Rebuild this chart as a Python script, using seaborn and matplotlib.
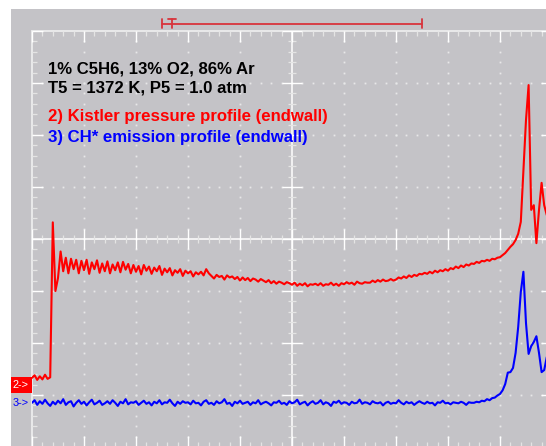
import numpy as np
import pandas as pd
import matplotlib
matplotlib.use("Agg")
import matplotlib.pyplot as plt
import seaborn as sns
from matplotlib.collections import LineCollection
from matplotlib.patches import Rectangle

# ---- acquisition record (screen divisions; 10 x 8 graticule, centre = 0) ----
SAMPLE_STEP = 0.05  # divisions per sample

# Channel 2: Kistler pressure (endwall)
pressure_div = [
    -2.67, -2.62, -2.71, -2.64, -2.70, -2.61, -2.69, -2.66, 0.32, -1.00,
    -0.75, -0.24, -0.62, -0.36, -0.66, -0.38, -0.58, -0.40, -0.66, -0.42,
    -0.60, -0.40, -0.67, -0.45, -0.58, -0.41, -0.65, -0.47, -0.62, -0.43,
    -0.66, -0.49, -0.60, -0.45, -0.64, -0.44, -0.59, -0.48, -0.66, -0.50,
    -0.63, -0.52, -0.68, -0.50, -0.61, -0.53, -0.67, -0.55, -0.62, -0.52,
    -0.69, -0.57, -0.64, -0.56, -0.70, -0.60, -0.65, -0.58, -0.71, -0.61,
    -0.66, -0.62, -0.72, -0.64, -0.68, -0.63, -0.70, -0.58, -0.66, -0.71,
    -0.76, -0.69, -0.73, -0.71, -0.78, -0.70, -0.74, -0.72, -0.77, -0.73,
    -0.80, -0.74, -0.79, -0.75, -0.81, -0.76, -0.78, -0.82, -0.77, -0.80,
    -0.83, -0.79, -0.85, -0.81, -0.86, -0.82, -0.84, -0.87, -0.83, -0.85,
    -0.88, -0.84, -0.90, -0.86, -0.89, -0.85, -0.91, -0.87, -0.88, -0.86,
    -0.89, -0.85, -0.90, -0.87, -0.88, -0.84, -0.89, -0.86, -0.90, -0.85,
    -0.87, -0.83, -0.86, -0.84, -0.88, -0.82, -0.85, -0.86, -0.83, -0.84,
    -0.84, -0.80, -0.83, -0.79, -0.82, -0.78, -0.81, -0.80, -0.77, -0.80,
    -0.78, -0.74, -0.76, -0.72, -0.75, -0.70, -0.73, -0.69, -0.71, -0.67,
    -0.68, -0.65, -0.67, -0.63, -0.66, -0.61, -0.64, -0.60, -0.62, -0.58,
    -0.61, -0.56, -0.58, -0.53, -0.56, -0.51, -0.54, -0.49, -0.51, -0.47,
    -0.48, -0.44, -0.46, -0.42, -0.43, -0.40, -0.42, -0.38, -0.39, -0.36,
    -0.35, -0.31, -0.27, -0.21, -0.15, -0.10, -0.02, 0.10, 0.33, 1.33,
    2.29, 2.96, 0.56, 0.65, -0.08, 0.56, 1.08, 0.65, 0.46,
]

# Channel 3: CH* emission (endwall)
emission_div = [
    -3.15, -3.10, -3.19, -3.12, -3.17, -3.09, -3.16, -3.21, -3.13, -3.18,
    -3.11, -3.16, -3.08, -3.19, -3.14, -3.12, -3.22, -3.15, -3.10, -3.17,
    -3.13, -3.20, -3.14, -3.09, -3.18, -3.15, -3.11, -3.19, -3.16, -3.12,
    -3.17, -3.10, -3.15, -3.21, -3.13, -3.16, -3.08, -3.18, -3.14, -3.15,
    -3.12, -3.19, -3.15, -3.11, -3.17, -3.14, -3.20, -3.13, -3.16, -3.10,
    -3.18, -3.14, -3.15, -3.09, -3.16, -3.21, -3.13, -3.17, -3.12, -3.15,
    -3.14, -3.18, -3.11, -3.16, -3.15, -3.20, -3.13, -3.10, -3.17, -3.15,
    -3.19, -3.12, -3.16, -3.14, -3.08, -3.17, -3.15, -3.21, -3.13, -3.16,
    -3.11, -3.17, -3.15, -3.13, -3.19, -3.14, -3.16, -3.10, -3.18, -3.15,
    -3.13, -3.16, -3.20, -3.14, -3.15, -3.11, -3.17, -3.15, -3.19, -3.12,
    -3.16, -3.14, -3.09, -3.18, -3.15, -3.13, -3.20, -3.15, -3.12, -3.17,
    -3.15, -3.10, -3.18, -3.14, -3.16, -3.21, -3.13, -3.15, -3.11, -3.17,
    -3.14, -3.15, -3.19, -3.13, -3.16, -3.15, -3.09, -3.17, -3.14, -3.15,
    -3.18, -3.12, -3.15, -3.16, -3.14, -3.20, -3.15, -3.13, -3.17, -3.15,
    -3.16, -3.10, -3.15, -3.18, -3.13, -3.16, -3.14, -3.19, -3.15, -3.12,
    -3.15, -3.17, -3.13, -3.16, -3.15, -3.20, -3.14, -3.15, -3.11, -3.16,
    -3.15, -3.18, -3.14, -3.15, -3.16, -3.13, -3.15, -3.19, -3.14, -3.15,
    -3.15, -3.13, -3.14, -3.11, -3.12, -3.08, -3.10, -3.06, -3.05, -3.01,
    -2.98, -2.91, -2.79, -2.57, -2.56, -2.48, -2.19, -1.69, -1.02, -0.63,
    -1.62, -2.21, -2.06, -1.98, -1.87, -2.19, -2.56, -2.52, -2.27,
]

# Channel reference markers (divisions) and trigger cursor span
ch2_reference = -2.81
ch3_reference = -3.15
cursor_start, cursor_end = 2.5, 7.5

header_lines = ["1% C5H6, 13% O2, 86% Ar", "T5 = 1372 K, P5 = 1.0 atm"]
channel_labels = ["2) Kistler pressure profile (endwall)",
                  "3) CH* emission profile (endwall)"]

# ---- styling ----
SCREEN = "#C4C3C7"
GRAT = "#FFFFFF"
DOT = "#E8E8E8"
RED = "#FF0000"
BLUE = "#0000FF"
CURSOR = "#D8343C"

sns.set_style("white")
plt.rcParams["font.family"] = ["Liberation Sans", "DejaVu Sans"]

W, H, DPI = 546, 446, 100
fig = plt.figure(figsize=(W / DPI, H / DPI), dpi=DPI)
fig.patch.set_facecolor("white")
fig.add_artist(Rectangle((11 / W, 0), 1, 1 - 9 / H, transform=fig.transFigure,
                         facecolor=SCREEN, edgecolor="none", zorder=0))

# graticule: 10 x 8 divisions, 52 px per division
ax = fig.add_axes([32 / W, -1 / H, 520 / W, 416 / H])
ax.set_facecolor(SCREEN)

minor_x = np.round(np.arange(0, 10.001, 0.2), 3)
minor_y = np.round(np.arange(-4, 4.001, 0.2), 3)

# dotted division lines
dx, dy = [], []
for gx in [1, 2, 3, 4, 6, 7, 8, 9]:
    dx += [gx] * len(minor_y)
    dy += list(minor_y)
for gy in [-3, -2, -1, 1, 2, 3]:
    dx += list(minor_x)
    dy += [gy] * len(minor_x)
ax.plot(dx, dy, ls="none", marker="s", ms=1.3, mew=0, color=DOT, zorder=1)

# solid centre axes and border
ax.plot([0, 10], [0, 0], color=GRAT, lw=1.1, zorder=1, solid_capstyle="butt")
ax.plot([5, 5], [-4, 4], color=GRAT, lw=1.1, zorder=1, solid_capstyle="butt")
ax.plot([0, 10], [4, 4], color="#EAEAEA", lw=1.4, zorder=1, clip_on=False)
ax.plot([0, 0], [-4, 4], color="#EAEAEA", lw=1.4, zorder=1, clip_on=False)

segs_major, segs_minor = [], []
mn, mj = 0.10, 0.21
for x in minor_x:
    major = abs(x - round(x)) < 1e-6
    L = mj if major else mn
    tgt = segs_major if major else segs_minor
    tgt.append([(x, 4), (x, 4 - L)])
    tgt.append([(x, -4), (x, -4 + L)])
    c = 0.19 if major else 0.08
    tgt.append([(x, -c), (x, c)])
for y in minor_y:
    major = abs(y - round(y)) < 1e-6
    L = mj if major else mn
    tgt = segs_major if major else segs_minor
    tgt.append([(0, y), (L, y)])
    tgt.append([(10, y), (10 - L, y)])
    c = 0.19 if major else 0.08
    tgt.append([(5 - c, y), (5 + c, y)])
ax.add_collection(LineCollection(segs_minor, colors="#E4E4E4", linewidths=0.9, zorder=1))
ax.add_collection(LineCollection(segs_major, colors=GRAT, linewidths=1.0, zorder=1))

# ---- traces ----
t_p = np.arange(len(pressure_div)) * SAMPLE_STEP
t_e = np.arange(len(emission_div)) * SAMPLE_STEP
df = pd.concat([
    pd.DataFrame({"time": t_p, "level": pressure_div, "channel": "pressure"}),
    pd.DataFrame({"time": t_e, "level": emission_div, "channel": "emission"}),
])
sns.lineplot(data=df, x="time", y="level", hue="channel",
             palette={"pressure": RED, "emission": BLUE},
             estimator=None, sort=False, lw=1.5, legend=False, ax=ax, zorder=3)
ax.set_xlim(0, 10)
ax.set_ylim(-4, 4)
ax.axis("off")

# ---- channel reference markers ----
ax.add_patch(Rectangle((-0.41, ch2_reference - 0.155), 0.41, 0.31,
                       facecolor=RED, edgecolor="none", clip_on=False, zorder=4))
ax.text(-0.37, ch2_reference, "2->", color="white", fontsize=7.8,
        va="center", ha="left", clip_on=False, zorder=5)
ax.text(-0.37, ch3_reference, "3->", color=BLUE, fontsize=7.8,
        va="center", ha="left", clip_on=False, zorder=5)

# ---- trigger cursor ----
cy = 4.14
ax.plot([cursor_start, cursor_end], [cy, cy], color=CURSOR, lw=1.3,
        clip_on=False, zorder=4)
for cx in (cursor_start, cursor_end):
    ax.plot([cx, cx], [cy - 0.09, cy + 0.09], color=CURSOR, lw=1.3,
            clip_on=False, zorder=4)
tx = cursor_start + 0.19
ax.plot([tx, tx], [cy - 0.08, cy + 0.09], color=CURSOR, lw=1.3, clip_on=False, zorder=4)
ax.plot([tx - 0.07, tx + 0.07], [cy + 0.09, cy + 0.09], color=CURSOR, lw=1.3,
        clip_on=False, zorder=4)

# ---- annotations ----
fs = 12.1
ax.text(0.31, 3.19, header_lines[0], color="black", fontsize=fs, fontweight="bold",
        va="baseline", ha="left", zorder=5)
ax.text(0.31, 2.81, header_lines[1], color="black", fontsize=fs, fontweight="bold",
        va="baseline", ha="left", zorder=5)
ax.text(0.31, 2.26, channel_labels[0], color=RED, fontsize=fs, fontweight="bold",
        va="baseline", ha="left", zorder=5)
ax.text(0.31, 1.87, channel_labels[1], color=BLUE, fontsize=fs, fontweight="bold",
        va="baseline", ha="left", zorder=5)

fig.savefig("out.png", dpi=DPI)
